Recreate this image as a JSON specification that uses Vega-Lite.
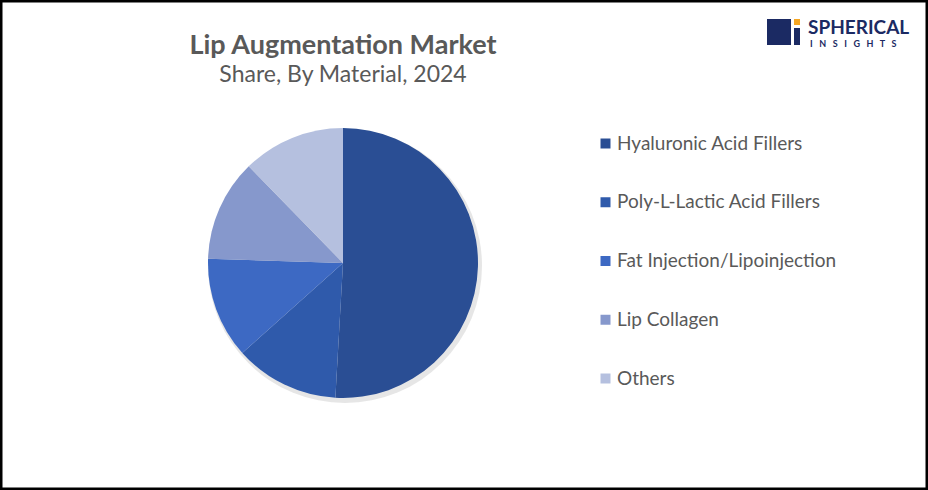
{
  "$schema": "https://vega.github.io/schema/vega-lite/v6.json",
  "width": 928,
  "height": 490,
  "autosize": {"type": "none"},
  "padding": 0,
  "background": "white",
  "view": {"stroke": "black", "strokeWidth": 5, "fill": "white"},
  "config": {
    "view": {"stroke": "black", "strokeWidth": 5},
    "font": "Lato"
  },
  "title": {
    "text": "Lip Augmentation Market",
    "subtitle": "Share, By Material, 2024",
    "anchor": "middle",
    "frame": "group",
    "dx": -121,
    "dy": 92,
    "font": "Lato",
    "fontSize": 27,
    "fontWeight": "bold",
    "color": "#595959",
    "subtitleFont": "Lato",
    "subtitleFontSize": 23,
    "subtitleColor": "#595959",
    "subtitlePadding": 4
  },
  "datasets": {
    "shares": [
      {"material": "Hyaluronic Acid Fillers", "share": 50.9, "rank": 1},
      {"material": "Poly-L-Lactic Acid Fillers", "share": 12.5, "rank": 2},
      {"material": "Fat Injection/Lipoinjection", "share": 12.1, "rank": 3},
      {"material": "Lip Collagen", "share": 12.2, "rank": 4},
      {"material": "Others", "share": 12.3, "rank": 5}
    ],
    "brand": [{"name": "SPHERICAL", "tag": "I\u00a0\u00a0\u00a0N\u00a0\u00a0\u00a0S\u00a0\u00a0\u00a0I\u00a0\u00a0\u00a0G\u00a0\u00a0\u00a0H\u00a0\u00a0\u00a0T\u00a0\u00a0\u00a0S"}]
  },
  "layer": [
    {
      "data": {"name": "brand"},
      "mark": {"type": "arc", "radius": 137, "x": 345, "y": 266, "theta": 0, "theta2": 6.2832, "color": "#d6d6d6", "opacity": 0.6},
      "encoding": {}
    },
    {
      "data": {"name": "shares"},
      "mark": {"type": "arc", "radius": 135, "x": 343, "y": 263},
      "encoding": {
        "theta": {"field": "share", "type": "quantitative", "stack": true},
        "order": {"field": "rank", "type": "quantitative"},
        "color": {
          "field": "material",
          "type": "nominal",
          "sort": null,
          "scale": {
            "domain": ["Hyaluronic Acid Fillers", "Poly-L-Lactic Acid Fillers", "Fat Injection/Lipoinjection", "Lip Collagen", "Others"],
            "range": ["#2a4e94", "#2f5aab", "#3d69c3", "#8698cc", "#b5c0df"]
          },
          "legend": {
            "title": null,
            "orient": "none",
            "legendX": 596,
            "legendY": 134,
            "direction": "vertical",
            "symbolType": "square",
            "symbolSize": 100,
            "symbolStrokeWidth": 0,
            "labelFont": "Lato",
            "labelFontSize": 19,
            "labelColor": "#595959",
            "labelOffset": 2,
            "rowPadding": 38.75,
            "labelLimit": 400
          }
        }
      }
    },
    {
      "data": {"name": "brand"},
      "mark": {"type": "rect", "x": 767, "x2": 791, "y": 19, "y2": 45, "color": "#1b2a63"},
      "encoding": {}
    },
    {
      "data": {"name": "brand"},
      "mark": {"type": "rect", "x": 794, "x2": 800, "y": 19, "y2": 25, "color": "#f5a623"},
      "encoding": {}
    },
    {
      "data": {"name": "brand"},
      "mark": {"type": "rect", "x": 794, "x2": 800, "y": 28, "y2": 45, "color": "#1b2a63"},
      "encoding": {}
    },
    {
      "data": {"name": "brand"},
      "mark": {"type": "rule", "x": 767, "x2": 791, "y": 39, "y2": 31, "color": "white", "strokeWidth": 2.5},
      "encoding": {}
    },
    {
      "data": {"name": "brand"},
      "mark": {"type": "text", "x": 808, "y": 28, "align": "left", "baseline": "middle", "font": "Lato", "fontWeight": "bold", "fontSize": 19, "color": "#1b2a63"},
      "encoding": {"text": {"field": "name"}}
    },
    {
      "data": {"name": "brand"},
      "mark": {"type": "text", "x": 810, "y": 44, "align": "left", "baseline": "middle", "font": "Lato", "fontSize": 9, "fontWeight": "bold", "color": "#1b2a63"},
      "encoding": {"text": {"field": "tag"}}
    }
  ]
}
